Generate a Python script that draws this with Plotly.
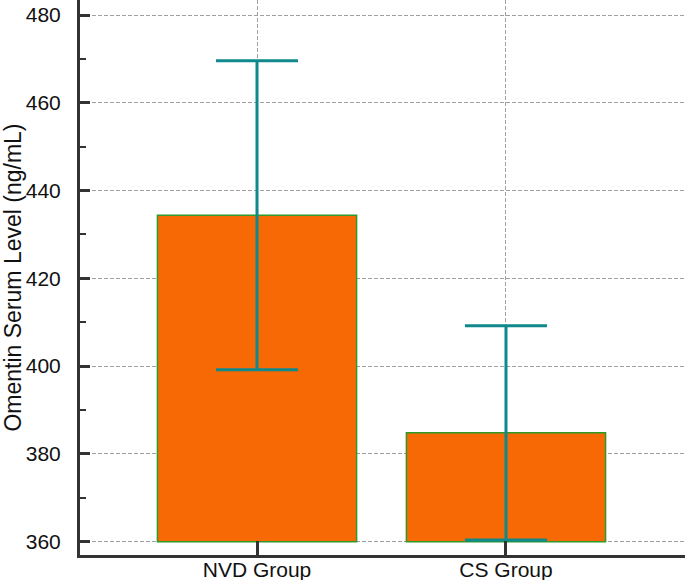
import plotly.graph_objects as go

groups = ["NVD Group", "CS Group"]
means = [434.4, 384.8]
errors = [35.2, 24.4]
baseline = 360
y_ticks = [360, 380, 400, 420, 440, 460, 480]

font_family = "Liberation Sans, Arial, sans-serif"

fig = go.Figure()
fig.add_trace(go.Bar(
    x=groups,
    y=[m - baseline for m in means],
    base=baseline,
    width=0.8,
    marker=dict(color="#F66905", line=dict(color="#2E9A2A", width=1.5)),
    showlegend=False,
    hoverinfo="skip",
))
fig.add_trace(go.Scatter(
    x=groups,
    y=means,
    mode="markers",
    marker=dict(size=1, opacity=0),
    error_y=dict(type="data", array=errors, visible=True,
                 color="#10898C", thickness=3, width=41),
    showlegend=False,
    hoverinfo="skip",
))

fig.update_layout(
    width=685, height=580,
    margin=dict(l=80, r=0, t=0, b=25, autoexpand=False),
    plot_bgcolor="white", paper_bgcolor="white",
    font=dict(family=font_family, color="#111111"),
)
fig.update_xaxes(
    range=[-0.711, 1.719],
    automargin=False,
    showline=True, linecolor="#333333", linewidth=3,
    ticks="inside", ticklen=14, tickwidth=2.5, tickcolor="#333333",
    showgrid=True, gridcolor="#A0A0A0", gridwidth=1, griddash="4px,2px",
    tickfont=dict(size=21, family=font_family, color="#111111"),
    ticklabelstandoff=-6,
    zeroline=False,
)
fig.update_yaxes(
    range=[356.97, 483.42],
    automargin=False,
    tickvals=y_ticks,
    showline=True, linecolor="#333333", linewidth=3,
    ticks="inside", ticklen=10, tickwidth=2.5, tickcolor="#333333",
    minor=dict(dtick=10, ticks="inside", ticklen=6, tickwidth=1.5, tickcolor="#333333", showgrid=False),
    showgrid=True, gridcolor="#A0A0A0", gridwidth=1, griddash="4px,2px",
    tickfont=dict(size=21, family=font_family, color="#111111"),
    ticklabelstandoff=12,
    title=dict(text="Omentin Serum Level (ng/mL)", font=dict(size=23, family=font_family, color="#111111"), standoff=0),
    zeroline=False,
)

fig.write_html("out.html", config={"displayModeBar": False},
               post_script="document.body.style.margin='0px';document.body.style.overflow='hidden';")
